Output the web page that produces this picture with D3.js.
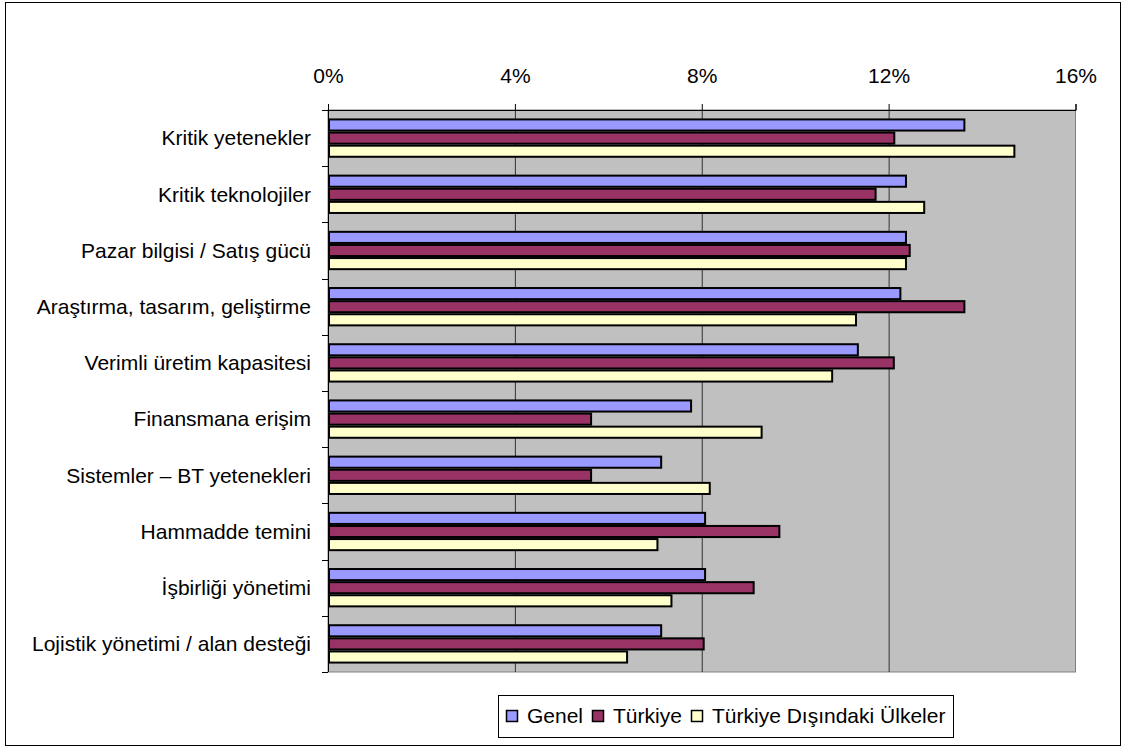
<!DOCTYPE html>
<html>
<head>
<meta charset="utf-8">
<script src="https://cdn.jsdelivr.net/npm/d3@7"></script>
<style>
  html, body { margin: 0; padding: 0; background: #fff; }
  svg { display: block; font-family: "Liberation Sans", Arial, sans-serif; }
</style>
</head>
<body>
<svg id="chart" width="1122" height="747"></svg>
<script>
// Categories (top to bottom)
const categories = [
  "Kritik yetenekler",
  "Kritik teknolojiler",
  "Pazar bilgisi / Satış gücü",
  "Araştırma, tasarım, geliştirme",
  "Verimli üretim kapasitesi",
  "Finansmana erişim",
  "Sistemler – BT yetenekleri",
  "Hammadde temini",
  "İşbirliği yönetimi",
  "Lojistik yönetimi / alan desteği"
];

const seriesNames = ["Genel", "Türkiye", "Türkiye Dışındaki Ülkeler"];

// Shares in percent
const genel    = [13.6, 12.35, 12.35, 12.23, 11.32, 7.75, 7.11, 8.05, 8.05, 7.11];
const turkiye  = [12.1, 11.7, 12.43, 13.6, 12.09, 5.61, 5.61, 9.64, 9.09, 8.02];
const disinda  = [14.67, 12.74, 12.35, 11.28, 10.77, 9.26, 8.15, 7.03, 7.33, 6.38];

const xTicks = [0, 4, 8, 12, 16];
const seriesColors = ["#9999ff", "#993366", "#ffffcc"];

const seriesValues = [genel, turkiye, disinda];

const FONT = 21;

const svg = d3.select("#chart");

// Outer frame
svg.append("rect")
  .attr("x", 5.5).attr("y", 2.5)
  .attr("width", 1115).attr("height", 743)
  .attr("fill", "#fff").attr("stroke", "#000").attr("stroke-width", 1);

const plot = { left: 328, right: 1075.5, top: 110, bottom: 672 };

const x = d3.scaleLinear().domain([0, 16]).range([plot.left, plot.right]);
const y = d3.scaleBand().domain(categories).range([plot.top, plot.bottom])
  .paddingInner(0.3).paddingOuter(0.15);
const ySub = d3.scaleBand().domain(d3.range(seriesNames.length)).range([0, y.bandwidth()]);

// Plot background
svg.append("rect")
  .attr("x", plot.left).attr("y", plot.top)
  .attr("width", plot.right - plot.left).attr("height", plot.bottom - plot.top)
  .attr("fill", "#c0c0c0").attr("stroke", "#808080").attr("stroke-width", 1);

// Vertical gridlines
svg.append("g").selectAll("line")
  .data(xTicks.slice(1, -1))
  .join("line")
  .attr("x1", d => x(d) + 0.5).attr("x2", d => x(d) + 0.5)
  .attr("y1", plot.top).attr("y2", plot.bottom)
  .attr("stroke", "#333").attr("stroke-width", 1);

// Top axis
const xAxis = d3.axisTop(x).tickValues(xTicks).tickFormat(d => d + "%")
  .tickSize(6).tickPadding(21);
const gx = svg.append("g").attr("transform", `translate(0,${plot.top})`).call(xAxis);
gx.attr("font-size", FONT).attr("font-family", "Liberation Sans, Arial, sans-serif");
gx.select(".domain").attr("stroke", "#000");
gx.selectAll(".tick line").attr("stroke", "#000");
gx.selectAll("text").attr("fill", "#000");

// Left axis with ticks at category boundaries
svg.append("line")
  .attr("x1", plot.left + 0.5).attr("x2", plot.left + 0.5)
  .attr("y1", plot.top).attr("y2", plot.bottom)
  .attr("stroke", "#000").attr("stroke-width", 1);
const boundaries = d3.range(categories.length + 1).map(i => plot.top + i * (plot.bottom - plot.top) / categories.length);
svg.append("g").selectAll("line")
  .data(boundaries)
  .join("line")
  .attr("x1", plot.left - 6).attr("x2", plot.left)
  .attr("y1", d => Math.round(d) + 0.5).attr("y2", d => Math.round(d) + 0.5)
  .attr("stroke", "#000");

svg.append("g").selectAll("text")
  .data(categories)
  .join("text")
  .attr("x", 311)
  .attr("y", d => y(d) + y.bandwidth() / 2)
  .attr("dy", "0.35em")
  .attr("text-anchor", "end")
  .attr("font-size", FONT)
  .attr("fill", "#000")
  .text(d => d);

// Bars
const groups = svg.append("g").selectAll("g")
  .data(categories)
  .join("g")
  .attr("transform", d => `translate(0,${y(d)})`);

groups.selectAll("rect")
  .data((d, i) => seriesValues.map((vals, s) => ({ s, v: vals[i] })))
  .join("rect")
  .attr("x", x(0) + 1)
  .attr("y", d => ySub(d.s) + 1)
  .attr("width", d => x(d.v) - x(0))
  .attr("height", ySub.bandwidth() - 2)
  .attr("fill", d => seriesColors[d.s])
  .attr("stroke", "#000")
  .attr("stroke-width", 2);

// Legend
const legend = svg.append("g");
legend.append("rect")
  .attr("x", 498.5).attr("y", 695.5)
  .attr("width", 455).attr("height", 42)
  .attr("fill", "#fff").attr("stroke", "#000");

const legendX = [506, 592, 691];
const items = legend.selectAll("g.item")
  .data(seriesNames)
  .join("g").attr("class", "item")
  .attr("transform", (d, i) => `translate(${legendX[i]},716)`);
items.append("rect")
  .attr("x", 0.5).attr("y", -5.5)
  .attr("width", 11).attr("height", 11)
  .attr("fill", (d, i) => seriesColors[i])
  .attr("stroke", "#000").attr("stroke-width", 1.5);
items.append("text")
  .attr("x", 21).attr("y", 0).attr("dy", "0.35em")
  .attr("font-size", FONT).attr("fill", "#000")
  .text(d => d);
</script>
</body>
</html>
